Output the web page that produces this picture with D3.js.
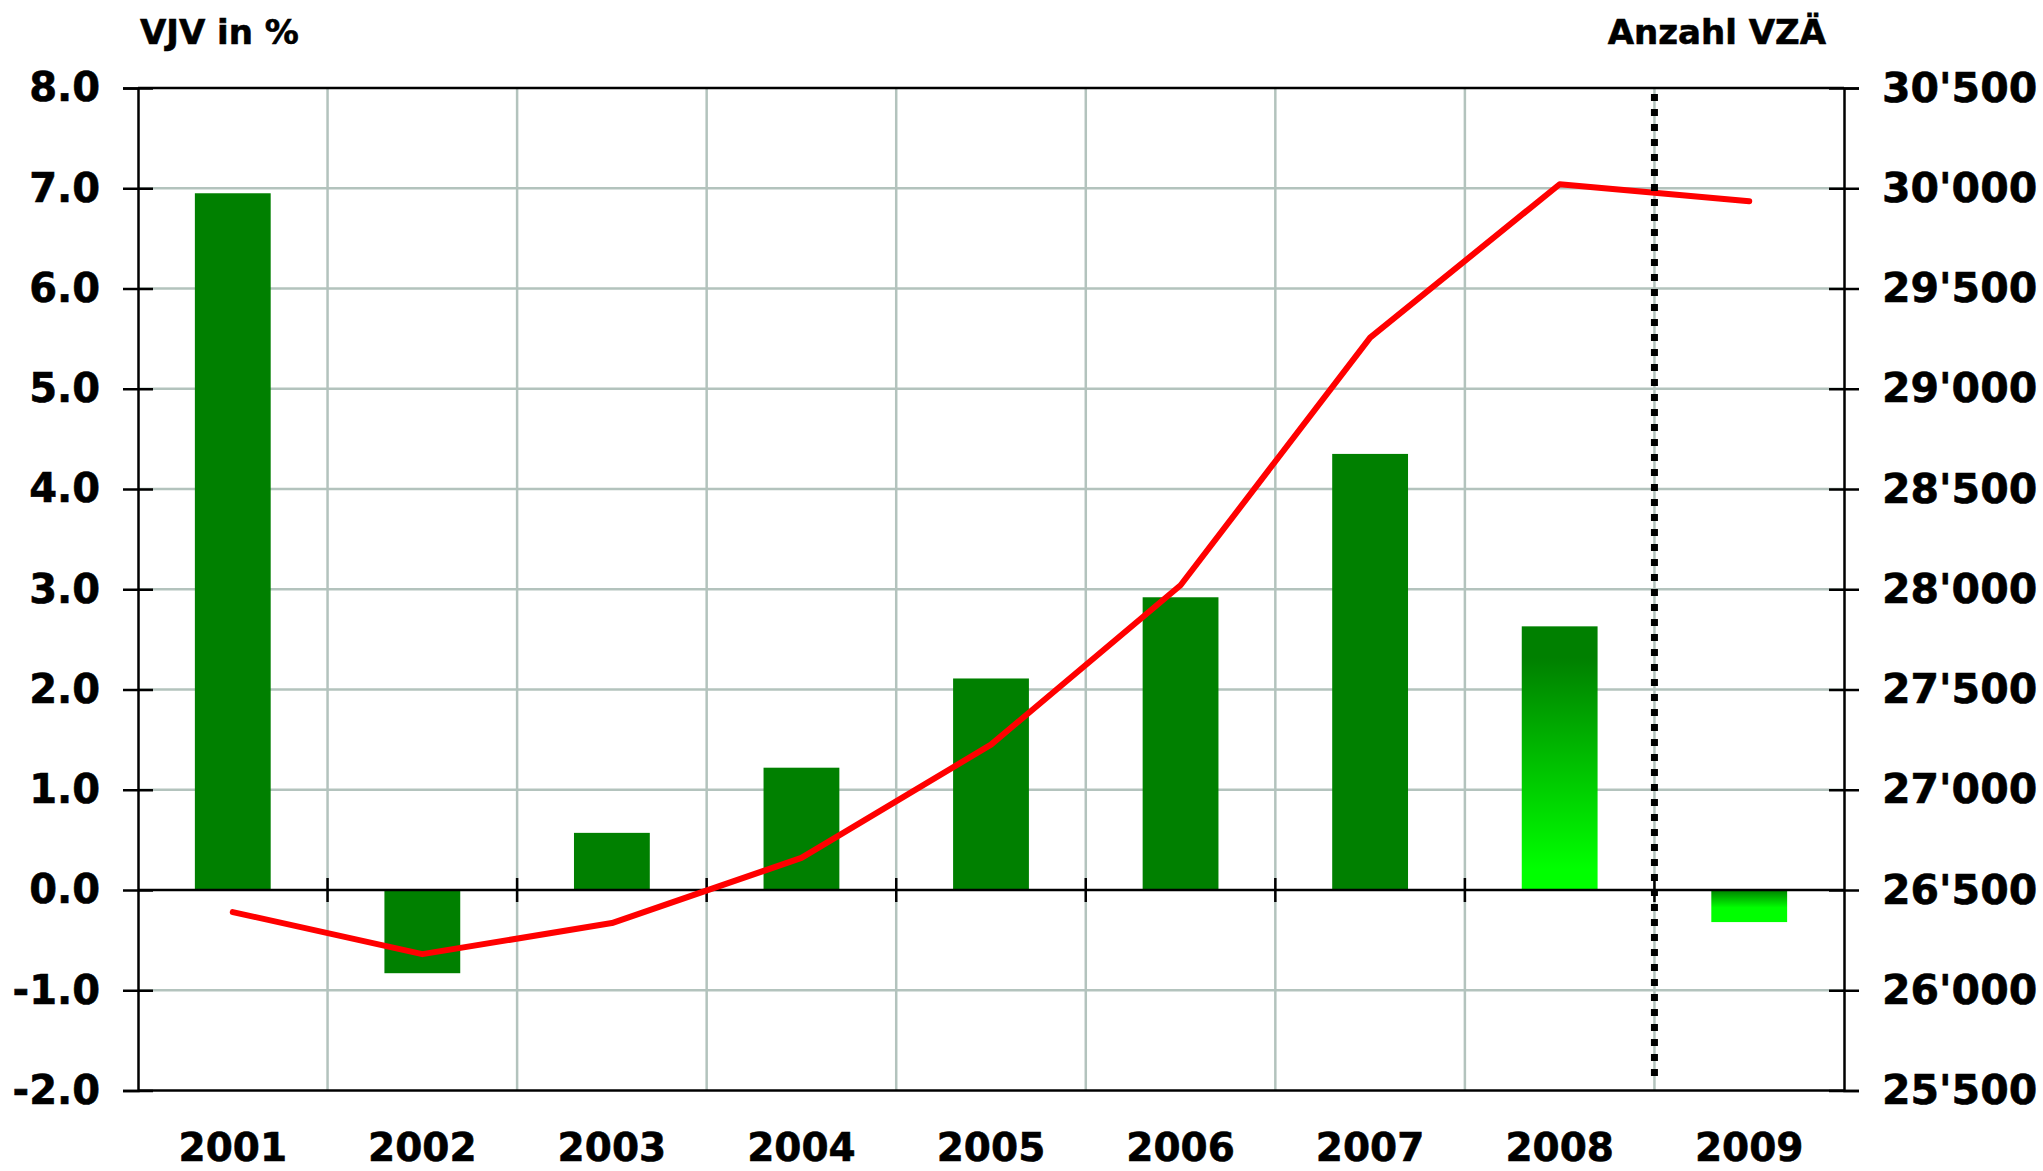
<!DOCTYPE html>
<html>
<head>
<meta charset="utf-8">
<script src="https://cdn.jsdelivr.net/npm/d3@7"></script>
<style>
  body { margin: 0; background: #fff; }
  text { font-family: "DejaVu Sans", Verdana, sans-serif; font-weight: bold; fill: #000; stroke: #000; stroke-width: 0.6px; }
</style>
</head>
<body>
<svg id="canvas" width="2043" height="1171"></svg>
<script>
// data
let years = ['2001', '2002', '2003', '2004', '2005', '2006', '2007', '2008', '2009']
let vjvValues = [6.95, -0.83, 0.57, 1.22, 2.11, 2.92, 4.35, 2.63, -0.32]   // VJV in % (bars)
let vzaValues = [26390, 26180, 26335, 26660, 27225, 28020, 29255, 30020, 29935] // Anzahl VZÄ (line)
let leftTicks = [-2, -1, 0, 1, 2, 3, 4, 5, 6, 7, 8]
let rightTicks = [25500, 26000, 26500, 27000, 27500, 28000, 28500, 29000, 29500, 30000, 30500]
let gradientYears = ['2008', '2009']   // these bars are drawn with the light gradient

let svg = d3.select('#canvas')

// plot box ('top' is taken by window.top, so prefixed names)
let plotLeft = 138, plotRight = 1844, plotTop = 88, plotBottom = 1090.5

let x = d3.scaleBand().domain(years).range([plotLeft, plotRight]).paddingInner(0.6).paddingOuter(0.3)
let y = d3.scaleLinear().domain([-2, 8]).range([plotBottom, plotTop])
let y2 = d3.scaleLinear().domain([25500, 30500]).range([plotBottom, plotTop])

let step = x.step()
let gridColor = '#b3c3bd'

// swiss number format 30'500
let swiss = d3.formatLocale({decimal: '.', thousands: "'", grouping: [3], currency: ['', ''], minus: '-'})

// gradients for 2008 / 2009
let defs = svg.append('defs')
let g1 = defs.append('linearGradient').attr('id', 'grad2008').attr('x1', 0).attr('x2', 0).attr('y1', 0).attr('y2', 1)
g1.append('stop').attr('offset', '0%').attr('stop-color', '#008000')
g1.append('stop').attr('offset', '12%').attr('stop-color', '#008000')
g1.append('stop').attr('offset', '92%').attr('stop-color', '#00ff00')
g1.append('stop').attr('offset', '100%').attr('stop-color', '#00ff00')
let g2 = defs.append('linearGradient').attr('id', 'grad2009').attr('x1', 0).attr('x2', 0).attr('y1', 0).attr('y2', 1)
g2.append('stop').attr('offset', '0%').attr('stop-color', '#008000')
g2.append('stop').attr('offset', '55%').attr('stop-color', '#00ff00')
g2.append('stop').attr('offset', '100%').attr('stop-color', '#00ff00')

// horizontal grid (grey), the 8 / 0 / -2 lines are black and drawn later
svg.append('g')
   .selectAll('line')
   .data(leftTicks.filter(d => d != 8 && d != 0 && d != -2))
   .enter()
   .append('line')
   .attr('x1', plotLeft).attr('x2', plotRight)
   .attr('y1', d => y(d)).attr('y2', d => y(d))
   .attr('stroke', gridColor)
   .attr('stroke-width', 2.5)

// vertical grid between the years
let boundaries = d3.range(1, years.length)
svg.append('g')
   .selectAll('line')
   .data(boundaries)
   .enter()
   .append('line')
   .attr('x1', i => plotLeft + i * step).attr('x2', i => plotLeft + i * step)
   .attr('y1', plotTop).attr('y2', plotBottom)
   .attr('stroke', gridColor)
   .attr('stroke-width', 2.5)

// bars
svg.append('g')
   .selectAll('rect')
   .data(years)
   .enter()
   .append('rect')
   .attr('x', d => x(d))
   .attr('width', x.bandwidth())
   .attr('y', (d, i) => Math.min(y(vjvValues[i]), y(0)))
   .attr('height', (d, i) => Math.abs(y(vjvValues[i]) - y(0)))
   .attr('fill', d => gradientYears.includes(d) ? 'url(#grad' + d + ')' : '#008000')

// black frame lines top / zero / bottom
svg.append('g')
   .selectAll('line')
   .data([8, 0, -2])
   .enter()
   .append('line')
   .attr('x1', plotLeft).attr('x2', plotRight)
   .attr('y1', d => y(d)).attr('y2', d => y(d))
   .attr('stroke', '#000')
   .attr('stroke-width', 2.5)

// little ticks on the zero line
svg.append('g')
   .selectAll('line')
   .data(boundaries)
   .enter()
   .append('line')
   .attr('x1', i => plotLeft + i * step).attr('x2', i => plotLeft + i * step)
   .attr('y1', y(0) - 12).attr('y2', y(0) + 12)
   .attr('stroke', '#000')
   .attr('stroke-width', 2.5)

// left axis
let leftAxis = svg.append('g')
   .attr('transform', 'translate(' + plotLeft + ',0)')
   .call(d3.axisLeft(y).tickValues(leftTicks).tickSize(15).tickPadding(23).tickFormat(d => d.toFixed(1)))
leftAxis.selectAll('.tick line').attr('x1', 15).attr('stroke-width', 2.5)
leftAxis.select('.domain').attr('stroke-width', 2.5)
leftAxis.selectAll('text').attr('font-size', 40).attr('font-family', null).attr('fill', null)

// right axis
let rightAxis = svg.append('g')
   .attr('transform', 'translate(' + plotRight + ',0)')
   .call(d3.axisRight(y2).tickValues(rightTicks).tickSize(15).tickPadding(23).tickFormat(swiss.format(',')))
rightAxis.selectAll('.tick line').attr('x1', -15).attr('stroke-width', 2.5)
rightAxis.select('.domain').attr('stroke-width', 2.5)
rightAxis.selectAll('text').attr('font-size', 41).attr('font-family', null).attr('fill', null)

// year labels
let bottomAxis = svg.append('g')
   .attr('transform', 'translate(0,' + plotBottom + ')')
   .call(d3.axisBottom(x).tickSize(0).tickPadding(43))
bottomAxis.select('.domain').remove()
bottomAxis.selectAll('text').attr('font-size', 39).attr('font-family', null).attr('fill', null)

// red line (right scale)
let line = d3.line()
   .x((d, i) => x(years[i]) + x.bandwidth() / 2)
   .y(d => y2(d))
svg.append('path')
   .datum(vzaValues)
   .attr('d', line)
   .attr('fill', 'none')
   .attr('stroke', '#ff0000')
   .attr('stroke-width', 6)
   .attr('stroke-linejoin', 'round')
   .attr('stroke-linecap', 'round')

// dotted separator before 2009
let sepX = plotLeft + 8 * step
svg.append('line')
   .attr('x1', sepX).attr('x2', sepX)
   .attr('y1', plotTop + 6).attr('y2', plotBottom - 8)
   .attr('stroke', '#000')
   .attr('stroke-width', 7)
   .attr('stroke-dasharray', '7,8')

// axis titles
svg.append('text')
   .attr('x', 140).attr('y', 44)
   .attr('font-size', 34)
   .text('VJV in %')
svg.append('text')
   .attr('x', 1826).attr('y', 44)
   .attr('text-anchor', 'end')
   .attr('font-size', 34)
   .text('Anzahl VZÄ')
</script>
</body>
</html>
